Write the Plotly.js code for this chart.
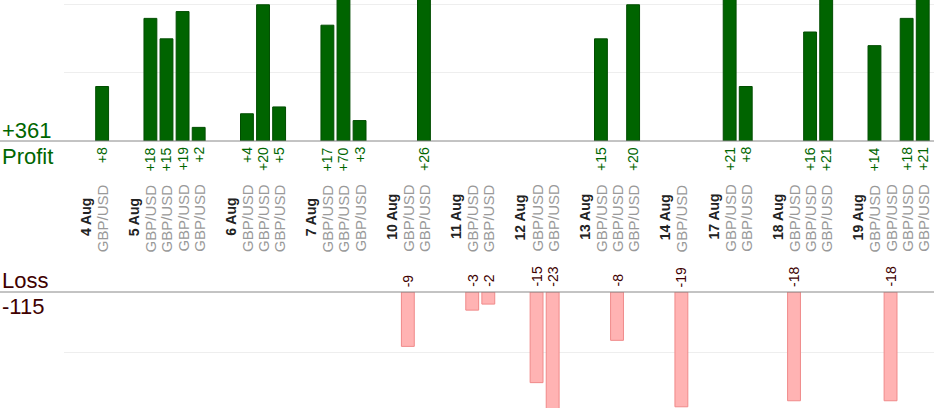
<!DOCTYPE html>
<html>
<head>
<meta charset="utf-8">
<script src="https://cdn.plot.ly/plotly-3.0.1.min.js"></script>
<style>body{margin:0}#chart{width:934px;height:420px}</style>
</head>
<body>
<div id="chart"></div>
<script>
// date labels and their slot
const dates = ['4 Aug', '5 Aug', '6 Aug', '7 Aug', '10 Aug', '11 Aug', '12 Aug', '13 Aug', '14 Aug', '17 Aug', '18 Aug', '19 Aug']
const dateSlots = [0, 3, 9, 14, 19, 23, 27, 31, 36, 39, 43, 48]

// winning trades
const profitSlots = [1, 4, 5, 6, 7, 10, 11, 12, 15, 16, 17, 21, 32, 34, 40, 41, 45, 46, 49, 51, 52]
const profitValues = [8, 18, 15, 19, 2, 4, 20, 5, 17, 70, 3, 26, 15, 20, 21, 8, 16, 21, 14, 18, 21]

// losing trades
const lossSlots = [20, 24, 25, 28, 29, 33, 37, 44, 50]
const lossValues = [-9, -3, -2, -15, -23, -8, -19, -18, -18]

const pair = 'GBP/USD'
const totalProfit = '+361'
const totalLoss = '-115'

const tradeSlots = profitSlots.concat(lossSlots)
const annotations = []

dates.forEach((d, i) => {
  annotations.push({
    x: dateSlots[i], xref: 'x', y: 1 - 217 / 420, yref: 'paper', yanchor: 'middle',
    text: '<b>' + d + '</b>', textangle: -90, showarrow: false,
    font: { size: 14, color: '#222' }
  })
})
tradeSlots.forEach(s => {
  annotations.push({
    x: s, xref: 'x', y: 1 - 218 / 420, yref: 'paper', yanchor: 'middle',
    text: pair, textangle: -90, showarrow: false,
    font: { size: 15, color: '#999' }
  })
})
profitValues.forEach((v, i) => {
  annotations.push({
    x: profitSlots[i], xref: 'x', y: 1 - 145 / 420, yref: 'paper', yanchor: 'top',
    text: '+' + v, textangle: -90, showarrow: false,
    font: { size: 14, color: '#006600' }
  })
})
lossValues.forEach((v, i) => {
  annotations.push({
    x: lossSlots[i], xref: 'x', y: 1 - 289 / 420, yref: 'paper', yanchor: 'bottom',
    text: String(v), textangle: -90, showarrow: false,
    font: { size: 14, color: '#400000' }
  })
})

const side = [
  [totalProfit, 130, '#006600'],
  ['Profit', 156, '#006600'],
  ['Loss', 280, '#400000'],
  [totalLoss, 306, '#400000']
]
side.forEach(t => {
  annotations.push({
    x: 0, xref: 'paper', xanchor: 'left', y: 1 - t[1] / 420, yref: 'paper', yanchor: 'middle',
    text: t[0], showarrow: false, font: { size: 22, color: t[2] }
  })
})

Plotly.newPlot(
  'chart',
  [
    {
      x: profitSlots, y: profitValues, type: 'bar', width: 0.8,
      marker: { color: '#006400', line: { color: '#004d00', width: 1 } },
      hoverinfo: 'none'
    },
    {
      x: lossSlots, y: lossValues, type: 'bar', width: 0.8, yaxis: 'y2',
      marker: { color: '#ffb3b3', line: { color: '#f08a8a', width: 1 } },
      hoverinfo: 'none'
    }
  ],
  {
    width: 934, height: 420,
    margin: { l: 0, r: 0, t: 0, b: 0 },
    showlegend: false,
    plot_bgcolor: 'white', paper_bgcolor: 'white',
    font: { family: 'Arial, Liberation Sans, sans-serif' },
    xaxis: {
      range: [-1.37, 52.7], domain: [64 / 934, 1],
      showticklabels: false, showgrid: false, zeroline: false, ticks: ''
    },
    yaxis: {
      domain: [1 - 141 / 420, 1], range: [0, 20.7],
      showticklabels: false, gridcolor: '#eeeeee', dtick: 10, zeroline: false
    },
    yaxis2: {
      domain: [1 - 408 / 420, 1 - 292 / 420], range: [-19.2, 0],
      showticklabels: false, gridcolor: '#eeeeee', dtick: 10, zeroline: false
    },
    shapes: [
      { type: 'line', xref: 'paper', yref: 'paper', x0: 0, x1: 1, y0: 1 - 141 / 420, y1: 1 - 141 / 420, line: { color: '#888', width: 1 } },
      { type: 'line', xref: 'paper', yref: 'paper', x0: 0, x1: 1, y0: 1 - 292 / 420, y1: 1 - 292 / 420, line: { color: '#888', width: 1 } }
    ],
    annotations: annotations
  },
  { staticPlot: true, displayModeBar: false }
)
</script>
</body>
</html>
